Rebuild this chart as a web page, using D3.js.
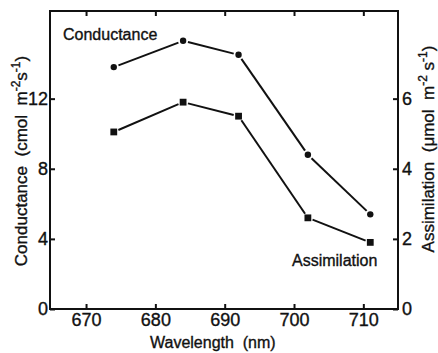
<!DOCTYPE html>
<html>
<head>
<meta charset="utf-8">
<script src="https://cdn.jsdelivr.net/npm/d3@7"></script>
<style>
body{margin:0;background:#fff;}
text{font-family:"Liberation Sans",Arial,sans-serif;fill:#111;stroke:#111;stroke-width:0.35px;}
</style>
</head>
<body>
<svg id="Chart" width="438" height="353"></svg>
<script>
// values
var wavelength = [674, 684, 692, 702, 711];
var conductance = [13.8, 15.3, 14.5, 8.8, 5.4];
var assimilation = [5.05, 5.9, 5.5, 2.6, 1.9];
var xTicks = [670, 680, 690, 700, 710];
var leftTicks = [0, 4, 8, 12];
var rightTicks = [0, 2, 4, 6];

// plot box (window.top is reserved, so no "top" here)
var boxL = 50, boxR = 398, boxT = 11, boxB = 309;
var ink = "#111";

var svg = d3.select("#Chart");

var x = d3.scaleLinear().domain([664.8, 715]).range([boxL, boxR]);
var yL = d3.scaleLinear().domain([0, 17]).range([boxB, boxT]);
var yR = d3.scaleLinear().domain([0, 8.5]).range([boxB, boxT]);

function styleAxis(g){
	g.select(".domain").remove();
	g.selectAll(".tick line").attr("stroke", ink).attr("stroke-width", 2);
	g.selectAll(".tick text").attr("font-family", "Liberation Sans, Arial, sans-serif")
		.attr("font-size", 18).attr("fill", ink);
}

// bottom
svg.append("g").attr("transform", "translate(0," + boxB + ")")
	.call(d3.axisBottom(x).tickValues(xTicks).tickSize(-5).tickPadding(4).tickFormat(d3.format("d")))
	.call(styleAxis);
// top
svg.append("g").attr("transform", "translate(0," + boxT + ")")
	.call(d3.axisTop(x).tickValues(xTicks).tickSize(-5).tickFormat(""))
	.call(styleAxis);
// left
svg.append("g").attr("transform", "translate(" + boxL + ",0)")
	.call(d3.axisLeft(yL).tickValues(leftTicks).tickSize(-5).tickPadding(2).tickFormat(d3.format("d")))
	.call(styleAxis);
// right
svg.append("g").attr("transform", "translate(" + boxR + ",0)")
	.call(d3.axisRight(yR).tickValues(rightTicks).tickSize(-5).tickPadding(4).tickFormat(d3.format("d")))
	.call(styleAxis);

// frame
svg.append("rect")
	.attr("x", boxL).attr("y", boxT)
	.attr("width", boxR - boxL).attr("height", boxB - boxT)
	.attr("fill", "none").attr("stroke", ink).attr("stroke-width", 2);

// series: segments stop short of the markers
function drawSeries(values, yScale, shape){
	var pts = values.map(function(v, i){ return [x(wavelength[i]), yScale(v)]; });
	var gap = 5;
	var segs = d3.pairs(pts).map(function(p){
		var dx = p[1][0] - p[0][0], dy = p[1][1] - p[0][1];
		var len = Math.sqrt(dx * dx + dy * dy);
		var ux = dx / len, uy = dy / len;
		return [p[0][0] + ux * gap, p[0][1] + uy * gap, p[1][0] - ux * gap, p[1][1] - uy * gap];
	});
	svg.append("g").selectAll("line").data(segs).enter().append("line")
		.attr("x1", function(d){ return d[0]; })
		.attr("y1", function(d){ return d[1]; })
		.attr("x2", function(d){ return d[2]; })
		.attr("y2", function(d){ return d[3]; })
		.attr("stroke", ink).attr("stroke-width", 2);

	var g = svg.append("g");
	if(shape == "circle"){
		g.selectAll("circle").data(pts).enter().append("circle")
			.attr("cx", function(d){ return d[0]; })
			.attr("cy", function(d){ return d[1]; })
			.attr("r", 3.2).attr("fill", ink);
	}else{
		g.selectAll("rect").data(pts).enter().append("rect")
			.attr("x", function(d){ return d[0] - 3.4; })
			.attr("y", function(d){ return d[1] - 3.4; })
			.attr("width", 6.8).attr("height", 6.8).attr("fill", ink);
	}
}

drawSeries(conductance, yL, "circle");
drawSeries(assimilation, yR, "square");

// series labels
svg.append("text").attr("x", 63).attr("y", 40).attr("font-size", 16).text("Conductance");
svg.append("text").attr("x", 292).attr("y", 266).attr("font-size", 16).text("Assimilation");

// x title
svg.append("text").attr("x", 150).attr("y", 348).attr("font-size", 16)
	.style("white-space", "pre")
	.text("Wavelength  (nm)");

// y titles with superscripts
function yTitle(cx, cy, parts){
	var t = svg.append("text")
		.attr("transform", "translate(" + cx + "," + cy + ") rotate(-90)")
		.attr("text-anchor", "middle").attr("font-size", 17)
		.style("white-space", "pre");
	parts.forEach(function(p){
		var s = t.append("tspan").text(p[0]);
		if(p[1] == "sup") s.attr("font-size", 12).attr("dy", -7);
		if(p[1] == "down") s.attr("dy", 7);
	});
}

yTitle(27, 161, [["Conductance  (cmol  m"], ["-2", "sup"], ["s", "down"], ["-1", "sup"], [")", "down"]]);
yTitle(434, 149, [["Assimilation  (\u03bcmol  m"], ["-2", "sup"], [" s", "down"], ["-1", "sup"], [")", "down"]]);
</script>
</body>
</html>
